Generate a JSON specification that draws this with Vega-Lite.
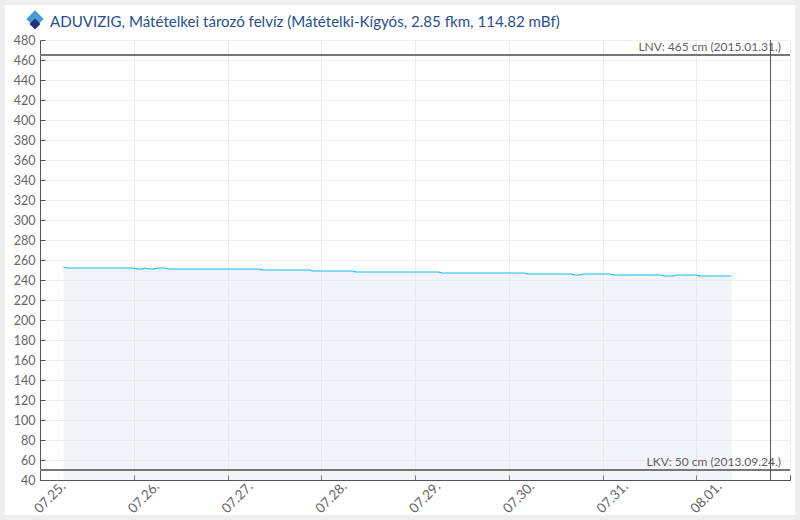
{
"$schema":"https://vega.github.io/schema/vega-lite/v6.json",
"width":750,"height":440,
"autosize":{"type":"none"},
"padding":{"left":40,"top":40,"right":10,"bottom":40},
"background":"#ffffff",
"config":{"font":"Lato","view":{"stroke":null}},
"layer":[
{"data":{"values":[{"x0":"2023-07-24T14:24:00Z","x1":"2023-08-02T01:55:00Z","y0":2.5,"y1":517.5}]},
 "mark":{"type":"rect","fill":"transparent","stroke":"#eeeeee","strokeWidth":5,"clip":false},
 "encoding":{
  "x":{"field":"x0","type":"temporal","scale":{"type":"utc","domain":["2023-07-25T00:00:00Z","2023-08-02T00:00:00Z"]},
   "axis":{"title":null,"tickCount":{"interval":"day","step":1},"grid":true,"gridColor":"#eeeeee","domainColor":"#555555","tickColor":"#555555","tickSize":-5,"labelAngle":-45,"labelAlign":"right","labelBaseline":"middle","labelOffset":23,"labelPadding":9,"labelFontSize":13.5,"labelColor":"#666666","labelOverlap":false,"labelFlush":false,"labelExpr":"utcFormat(datum.value,'%m.%d.')=='08.02.'?'':utcFormat(datum.value,'%m.%d.')"}},
  "x2":{"field":"x1"},
  "y":{"field":"y0","type":"quantitative","scale":{"domain":[40,480],"nice":false,"zero":false},
   "axis":{"title":null,"tickCount":23,"grid":true,"gridColor":"#eeeeee","domainColor":"#555555","tickColor":"#555555","tickSize":-5,"labelPadding":10,"labelFontSize":12.5,"labelColor":"#666666","labelOverlap":false,"labelFlush":false}},
  "y2":{"field":"y1"}}},
{"data":{"values":[
{"t":"2023-07-25T06:00:00Z","v":253},{"t":"2023-07-25T07:00:00Z","v":252},{"t":"2023-07-26T00:00:00Z","v":252},{"t":"2023-07-26T01:00:00Z","v":251},{"t":"2023-07-26T02:00:00Z","v":251},{"t":"2023-07-26T03:00:00Z","v":252},{"t":"2023-07-26T04:00:00Z","v":251},{"t":"2023-07-26T05:00:00Z","v":251},{"t":"2023-07-26T06:00:00Z","v":252},{"t":"2023-07-26T08:00:00Z","v":252},{"t":"2023-07-26T09:00:00Z","v":251},{"t":"2023-07-27T08:00:00Z","v":251},{"t":"2023-07-27T09:00:00Z","v":250},{"t":"2023-07-27T21:00:00Z","v":250},{"t":"2023-07-27T22:00:00Z","v":249},{"t":"2023-07-28T08:00:00Z","v":249},{"t":"2023-07-28T09:00:00Z","v":248},{"t":"2023-07-29T06:00:00Z","v":248},{"t":"2023-07-29T07:00:00Z","v":247},{"t":"2023-07-30T04:00:00Z","v":247},{"t":"2023-07-30T05:00:00Z","v":246},{"t":"2023-07-30T16:00:00Z","v":246},{"t":"2023-07-30T17:00:00Z","v":245},{"t":"2023-07-30T18:00:00Z","v":245},{"t":"2023-07-30T19:00:00Z","v":246},{"t":"2023-07-31T02:00:00Z","v":246},{"t":"2023-07-31T03:00:00Z","v":245},{"t":"2023-07-31T15:00:00Z","v":245},{"t":"2023-07-31T16:00:00Z","v":244},{"t":"2023-07-31T18:00:00Z","v":244},{"t":"2023-07-31T19:00:00Z","v":245},{"t":"2023-08-01T00:00:00Z","v":245},{"t":"2023-08-01T01:00:00Z","v":244},{"t":"2023-08-01T09:00:00Z","v":244}]},
 "layer":[
 {"mark":{"type":"area","color":"#d5daea","opacity":0.3,"interpolate":"monotone"},
  "encoding":{"x":{"field":"t","type":"temporal"},"y":{"field":"v","type":"quantitative"},"y2":{"datum":40}}},
 {"mark":{"type":"line","color":"#12bdf2","strokeWidth":1.2,"interpolate":"monotone"},
  "encoding":{"x":{"field":"t","type":"temporal"},"y":{"field":"v","type":"quantitative"}}}
 ]},
{"data":{"values":[{"l":"LNV: 465 cm (2015.01.31.)","v":465,"t":"2023-08-02T00:00:00Z"},{"l":"LKV: 50 cm (2013.09.24.)","v":50,"t":"2023-08-02T00:00:00Z"}]},
 "layer":[
 {"mark":{"type":"rule","color":"#777777","strokeWidth":2},"encoding":{"y":{"field":"v","type":"quantitative"}}},
 {"mark":{"type":"text","align":"right","baseline":"alphabetic","dx":-9,"dy":-4,"fontSize":12,"color":"#5f5f5f","font":"Lato"},
  "encoding":{"x":{"field":"t","type":"temporal"},"y":{"field":"v","type":"quantitative"},"text":{"field":"l"}}}
 ]},
{"data":{"values":[{"t":"2023-08-01T19:00:00Z"}]},
 "mark":{"type":"rule","color":"#555555","strokeWidth":1},
 "encoding":{"x":{"field":"t","type":"temporal"}}},
{"data":{"values":[{"l":"ADUVIZIG, Mátételkei tározó felvíz (Mátételki-Kígyós, 2.85 fkm, 114.82 mBf)","v":493,"t":"2023-07-25T02:34:00Z"}]},
 "mark":{"type":"text","align":"left","baseline":"alphabetic","fontSize":15.1,"color":"#26508f","font":"Lato","clip":false},
 "encoding":{"x":{"field":"t","type":"temporal"},"y":{"field":"v","type":"quantitative"},"text":{"field":"l"}}},
{"data":{"values":[{"t":"2023-07-24T22:43:00Z","v":501}]},
 "mark":{"type":"point","shape":"diamond","filled":true,"color":"#4a9ad8","opacity":1,"size":300,"clip":false},
 "encoding":{"x":{"field":"t","type":"temporal"},"y":{"field":"v","type":"quantitative"}}},
{"data":{"values":[{"t":"2023-07-24T22:43:00Z","v":496}]},
 "mark":{"type":"point","shape":"diamond","filled":true,"color":"#1f2f78","opacity":1,"size":120,"clip":false},
 "encoding":{"x":{"field":"t","type":"temporal"},"y":{"field":"v","type":"quantitative"}}}
]
}
